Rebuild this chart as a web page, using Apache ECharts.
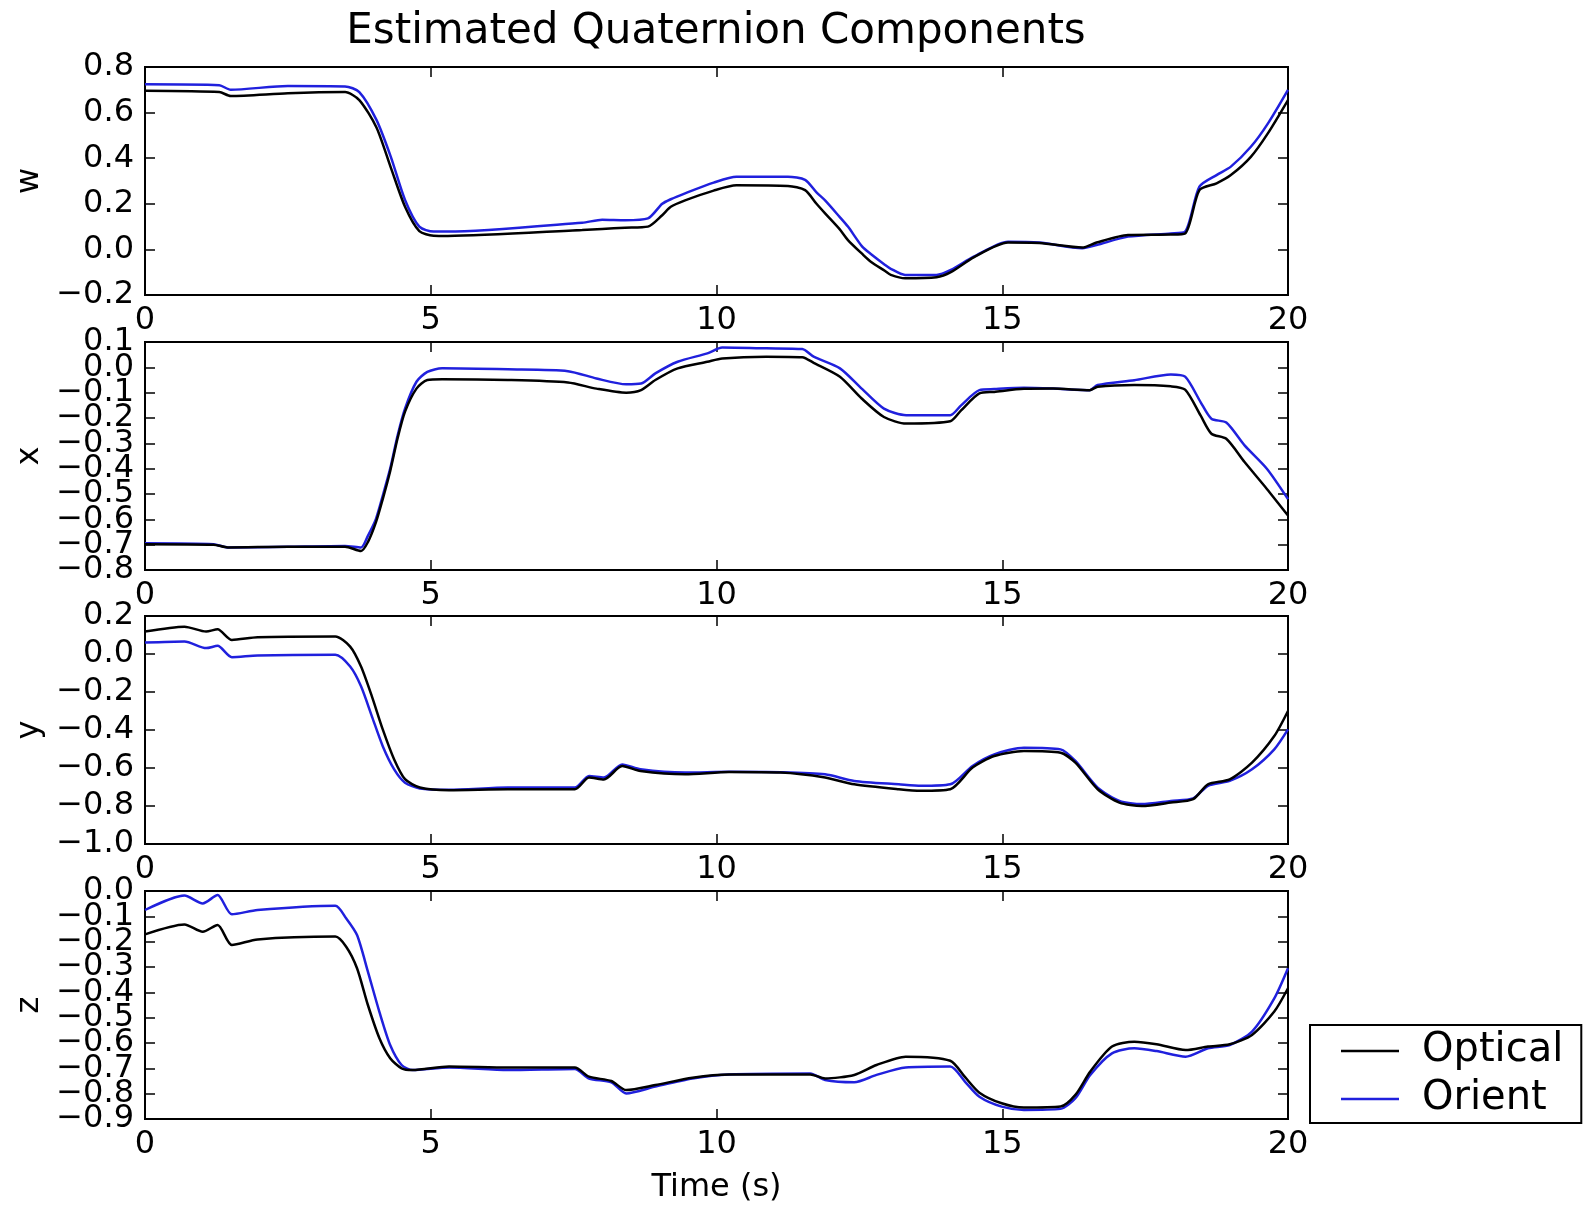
<!DOCTYPE html>
<html lang="en">
<head>
    <meta charset="UTF-8">
    <title>Estimated Quaternion Components</title>
    <style>
        *{
            margin: 0;
            padding: 0;
        }
        body{
            background: #FFFFFF;
        }
        #chart{
            width: 1590px;
            height: 1205px;
        }
    </style>
</head>
<body>
<div id="chart"></div>

<script src="https://cdn.jsdelivr.net/npm/echarts@6/dist/echarts.min.js"></script>
<script>
    // time stamps (s) read per panel, and the two estimates in each
    let tW = [0, 1.3, 1.5, 2.5, 3.5, 3.75, 4.05, 4.3, 4.55, 4.8, 5.05, 5.3, 7.65, 8.0, 8.4, 8.8, 9.05, 9.2, 9.45, 9.95,
        10.35, 11.25, 11.55, 11.75, 11.9, 12.15, 12.3, 12.55, 12.7, 12.95, 13.05, 13.3, 13.85, 14.1, 14.5, 15.1, 15.65,
        16.4, 16.65, 17.2, 17.95, 18.2, 18.45, 18.75, 19.0, 19.35, 19.65, 20];
    let wOptical = [0.696, 0.69, 0.673, 0.685, 0.69, 0.655, 0.535, 0.36, 0.187, 0.08, 0.06, 0.059, 0.085, 0.09, 0.095, 0.10, 0.15, 0.187, 0.215, 0.258,
        0.281, 0.278, 0.26, 0.20, 0.158, 0.09, 0.041, -0.02, -0.054, -0.095, -0.112, -0.127, -0.122, -0.10, -0.035, 0.03, 0.028,
        0.008, 0.03, 0.063, 0.065, 0.07, 0.26, 0.29, 0.326, 0.406, 0.51, 0.655];
    let wOrient = [0.724, 0.72, 0.70, 0.717, 0.715, 0.69, 0.568, 0.407, 0.217, 0.10, 0.078, 0.078, 0.117, 0.13, 0.128, 0.136, 0.20, 0.22, 0.246, 0.293,
        0.319, 0.319, 0.305, 0.25, 0.215, 0.144, 0.10, 0.012, -0.02, -0.068, -0.085, -0.112, -0.112, -0.09, -0.032, 0.034, 0.03,
        0.005, 0.019, 0.056, 0.07, 0.078, 0.275, 0.326, 0.363, 0.45, 0.553, 0.70];

    let tX = [0, 1.2, 1.45, 2.5, 3.5, 3.78, 3.9, 4.04, 4.16, 4.29, 4.42, 4.55, 4.75, 4.94, 5.2, 6.35, 7.4, 7.9, 8.42, 8.68,
        8.93, 9.32, 9.84, 10.1, 10.87, 11.5, 11.7, 12.16, 12.54, 12.93, 13.32, 14.09, 14.28, 14.6, 14.86, 15.38, 15.89,
        16.53, 16.67, 17.31, 17.95, 18.2, 18.47, 18.66, 18.92, 19.24, 19.63, 20];
    let xOptical = [-0.698, -0.70, -0.711, -0.708, -0.708, -0.725, -0.69, -0.612, -0.52, -0.41, -0.28, -0.175, -0.084, -0.05, -0.047, -0.05, -0.06, -0.084, -0.10, -0.09,
        -0.05, -0.004, 0.022, 0.035, 0.042, 0.04, 0.018, -0.037, -0.123, -0.196, -0.222, -0.213, -0.17, -0.103, -0.097, -0.085, -0.084,
        -0.09, -0.077, -0.07, -0.075, -0.088, -0.19, -0.262, -0.282, -0.374, -0.48, -0.585];
    let xOrient = [-0.694, -0.698, -0.711, -0.708, -0.705, -0.711, -0.665, -0.599, -0.507, -0.40, -0.269, -0.163, -0.057, -0.018, -0.004, -0.008, -0.015, -0.044, -0.067, -0.064,
        -0.024, 0.022, 0.055, 0.078, 0.075, 0.072, 0.042, -0.004, -0.084, -0.163, -0.189, -0.189, -0.15, -0.09, -0.086, -0.081, -0.084,
        -0.09, -0.07, -0.051, -0.028, -0.037, -0.137, -0.203, -0.218, -0.308, -0.40, -0.52];

    let tY = [0, 0.69, 1.07, 1.27, 1.52, 1.97, 3.33, 3.59, 3.78, 3.97, 4.16, 4.36, 4.55, 4.81, 5.32, 6.35, 7.52, 7.77, 8.03, 8.35,
        8.67, 9.45, 10.22, 11.12, 11.9, 12.41, 13.19, 13.58, 14.09, 14.48, 14.86, 15.38, 16.02, 16.28, 16.67, 17.05, 17.44,
        17.95, 18.34, 18.6, 18.98, 19.37, 19.76, 20];
    let yOptical = [0.118, 0.144, 0.118, 0.13, 0.074, 0.088, 0.092, 0.039, -0.066, -0.223, -0.397, -0.555, -0.659, -0.703, -0.717, -0.712, -0.712, -0.65, -0.66, -0.59,
        -0.616, -0.633, -0.621, -0.624, -0.65, -0.686, -0.712, -0.72, -0.712, -0.598, -0.537, -0.511, -0.52, -0.572, -0.712, -0.782, -0.80,
        -0.782, -0.764, -0.686, -0.66, -0.572, -0.432, -0.30];
    let yOrient = [0.06, 0.066, 0.031, 0.043, -0.017, -0.008, -0.004, -0.066, -0.17, -0.328, -0.485, -0.607, -0.677, -0.708, -0.715, -0.703, -0.703, -0.642, -0.65, -0.581,
        -0.607, -0.624, -0.62, -0.622, -0.633, -0.668, -0.686, -0.694, -0.686, -0.589, -0.528, -0.493, -0.502, -0.563, -0.703, -0.773, -0.79,
        -0.773, -0.76, -0.694, -0.668, -0.607, -0.502, -0.397];

    let tZ = [0, 0.69, 1.01, 1.27, 1.52, 1.97, 3.33, 3.52, 3.71, 3.9, 4.1, 4.29, 4.49, 4.68, 5.32, 6.35, 7.52, 7.77, 8.16, 8.42,
        8.93, 9.58, 10.22, 11.64, 11.9, 12.41, 12.8, 13.31, 14.09, 14.35, 14.6, 14.99, 15.38, 16.02, 16.28, 16.54, 16.92,
        17.31, 17.7, 18.21, 18.6, 18.98, 19.37, 19.76, 20];
    let zOptical = [-0.171, -0.132, -0.161, -0.134, -0.213, -0.191, -0.18, -0.22, -0.305, -0.45, -0.58, -0.66, -0.70, -0.707, -0.693, -0.697, -0.697, -0.733, -0.75, -0.786,
        -0.766, -0.737, -0.724, -0.724, -0.74, -0.726, -0.687, -0.654, -0.67, -0.735, -0.796, -0.838, -0.855, -0.851, -0.805, -0.713, -0.614,
        -0.595, -0.605, -0.628, -0.614, -0.605, -0.568, -0.476, -0.384];
    let zOrient = [-0.075, -0.018, -0.049, -0.016, -0.092, -0.075, -0.058, -0.108, -0.174, -0.318, -0.476, -0.608, -0.687, -0.707, -0.697, -0.707, -0.703, -0.74, -0.755, -0.799,
        -0.772, -0.74, -0.724, -0.72, -0.746, -0.755, -0.726, -0.697, -0.693, -0.753, -0.812, -0.851, -0.864, -0.86, -0.818, -0.726, -0.641,
        -0.621, -0.632, -0.654, -0.621, -0.608, -0.555, -0.424, -0.305];

    let panelNames = ['w', 'x', 'y', 'z'];
    let yMins = [-0.2, -0.8, -1.0, -0.9];
    let yMaxs = [0.8, 0.1, 0.2, 0.0];
    let ySteps = [0.2, 0.1, 0.2, 0.1];
    let xTicks = [0, 5, 10, 15, 20];

    let times = [tW, tX, tY, tZ];
    let opticals = [wOptical, xOptical, yOptical, zOptical];
    let orients = [wOrient, xOrient, yOrient, zOrient];

    let font = 'DejaVu Sans';
    let labelSize = 32;
    let panelTops = [67, 342, 616, 891];

    let myChart = echarts.init(document.getElementById('chart'));

    function fmtY(v){
        return v.toFixed(1).replace('-', '\u2212');
    }

    let grids = [], xAxes = [], yAxes = [], series = [];
    let tick = {show: true, inside: true, length: 10, lineStyle: {color: '#000', width: 1.5}};
    let noLine = {show: false, onZero: false};
    let labelStyle = {color: '#000', fontFamily: font, fontSize: labelSize};

    for(let i = 0;i<4;i++){
        let box = {left: 145, top: panelTops[i], width: 1143, height: 228};
        let g = grids.length;
        // main panel: frame, bottom x axis, left y axis (inner labels)
        grids.push(Object.assign({show: true, borderColor: '#000', borderWidth: 2, backgroundColor: '#fff'}, box));
        // overlay: top and right ticks
        grids.push(Object.assign({show: false}, box));
        // overlay: end labels of the y axis (ECharts would drop them where the labels crowd)
        grids.push(Object.assign({show: false}, box));

        let yMin = yMins[i], yMax = yMaxs[i];
        xAxes.push({
            type: 'value', gridIndex: g, position: 'bottom',
            min: xTicks[0], max: xTicks[xTicks.length - 1], interval: 5,
            axisLine: noLine, axisTick: tick, splitLine: {show: false},
            axisLabel: Object.assign({show: true, margin: 10, showMinLabel: true, showMaxLabel: true}, labelStyle),
            name: i === 3 ? 'Time (s)' : '', nameLocation: 'middle', nameGap: 53,
            nameTextStyle: labelStyle
        });
        yAxes.push({
            type: 'value', gridIndex: g, position: 'left',
            min: yMin, max: yMax, interval: ySteps[i],
            axisLine: noLine, axisTick: tick, splitLine: {show: false},
            axisLabel: Object.assign({show: true, margin: 11, formatter: fmtY,
                showMinLabel: false, showMaxLabel: false}, labelStyle),
            name: panelNames[i], nameLocation: 'middle', nameGap: 99, nameRotate: 90,
            nameTextStyle: labelStyle
        });

        xAxes.push({
            type: 'value', gridIndex: g + 1, position: 'top',
            min: 0, max: 20, interval: 5,
            axisLine: noLine, axisTick: tick, splitLine: {show: false},
            axisLabel: {show: false}
        });
        yAxes.push({
            type: 'value', gridIndex: g + 1, position: 'right',
            min: yMin, max: yMax, interval: ySteps[i],
            axisLine: noLine, axisTick: tick, splitLine: {show: false},
            axisLabel: {show: false}
        });

        xAxes.push({
            type: 'value', gridIndex: g + 2, position: 'bottom', min: 0, max: 20, show: false
        });
        yAxes.push({
            type: 'value', gridIndex: g + 2, position: 'left',
            min: yMin, max: yMax, interval: ySteps[i],
            axisLine: noLine, axisTick: {show: false}, splitLine: {show: false},
            axisLabel: Object.assign({show: true, margin: 11, showMinLabel: true, showMaxLabel: true,
                formatter: function(v){
                    return (Math.abs(v - yMin) < 1e-9 || Math.abs(v - yMax) < 1e-9) ? fmtY(v) : '';
                }}, labelStyle)
        });

        series.push({
            name: 'Optical', type: 'line', xAxisIndex: g, yAxisIndex: g,
            symbol: 'none', smooth: 0.25, lineStyle: {color: '#000000', width: 2.5}, itemStyle: {color: '#000000'},
            data: times[i].map((t, k) => [t, opticals[i][k]]), z: 3
        });
        series.push({
            name: 'Orient', type: 'line', xAxisIndex: g, yAxisIndex: g,
            symbol: 'none', smooth: 0.25, lineStyle: {color: '#2020dd', width: 2.5}, itemStyle: {color: '#2020dd'},
            data: times[i].map((t, k) => [t, orients[i][k]]), z: 2
        });
    }

    myChart.setOption({
        animation: false,
        backgroundColor: '#fff',
        title: {
            text: 'Estimated Quaternion Components',
            left: 716, top: 11, textAlign: 'center', padding: 0,
            textStyle: {color: '#000', fontFamily: font, fontSize: 42, fontWeight: 'normal'}
        },
        legend: {
            data: ['Optical', 'Orient'],
            orient: 'vertical',
            left: 1310, top: 1025,
            padding: [6, 18, 4, 31],
            icon: 'rect',
            itemWidth: 58, itemHeight: 2.5, itemGap: 8,
            borderColor: '#000', borderWidth: 2, borderRadius: 0,
            backgroundColor: '#fff',
            textStyle: {color: '#000', fontFamily: font, fontSize: 40, lineHeight: 40, padding: [0, 0, 0, 18]}
        },
        grid: grids,
        xAxis: xAxes,
        yAxis: yAxes,
        series: series
    });
</script>
</body>
</html>
